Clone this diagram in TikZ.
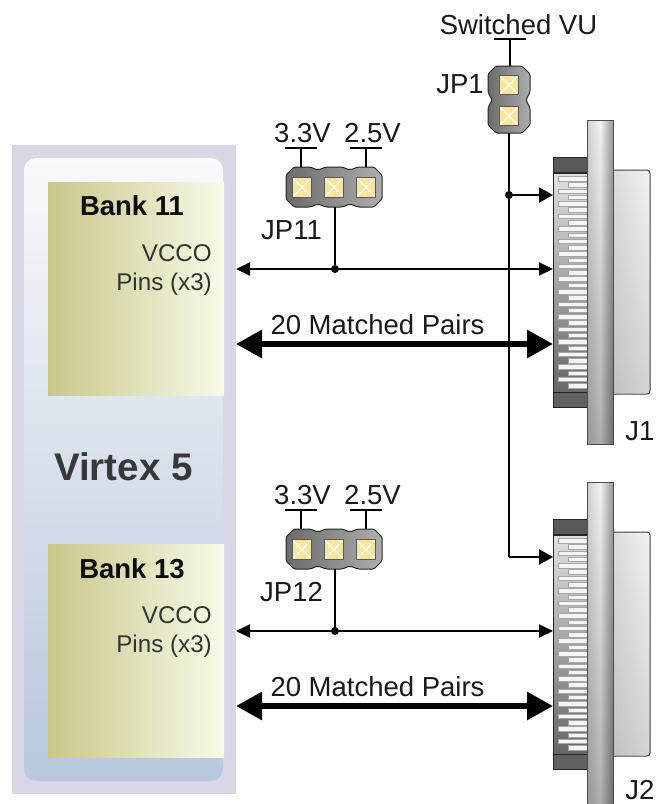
\documentclass[tikz,border=0pt]{standalone}
\usepackage{fontspec}
\setmainfont{Liberation Sans}
\usetikzlibrary{arrows.meta,fadings}
\definecolor{panel}{HTML}{D9D7E6}
\definecolor{innerT}{HTML}{F8F9FA}
\definecolor{innerM}{HTML}{DFE4EF}
\definecolor{innerB}{HTML}{B8C7DD}
\definecolor{bankL}{HTML}{C8C78B}
\definecolor{bankR}{HTML}{F9FAE8}
\definecolor{pinY}{HTML}{F8E49A}
\tikzfading[name=darkdown, top color=transparent!100, bottom color=transparent!72]
\tikzfading[name=darkdownsoft, top color=transparent!100, bottom color=transparent!88]
\tikzset{
  lbl/.style={font=\fontsize{27.5}{30}\selectfont, text=black!90, inner sep=0pt},
  banktitle/.style={font=\bfseries\fontsize{27.5}{30}\selectfont, text=black!95, inner sep=0pt},
  pinslbl/.style={font=\fontsize{24.2}{30}\selectfont, text=black!80, inner sep=0pt, anchor=east},
  bankbox/.style={left color=bankL, right color=bankR, minimum width=176pt, minimum height=213pt, anchor=north west, inner sep=0pt},
  jpin/.style={draw=black!65, line width=1pt, fill=pinY, minimum size=19.5pt, inner sep=0pt,
    path picture={\draw[white, line width=1.1pt] (path picture bounding box.north west)--(path picture bounding box.south east)
      (path picture bounding box.north east)--(path picture bounding box.south west);}},
  jbody/.style={draw=black!85, line width=1pt, left color=black!58, right color=black!32, rounded corners=1.5pt},
  wire/.style={draw=black, line width=1.9pt},
  thinarrow/.style={draw=black, line width=1.9pt, {Triangle[length=14pt,width=13pt]}-{Triangle[length=14pt,width=13pt]}},
  tiparrow/.style={draw=black, line width=2pt, -{Triangle[length=14pt,width=15pt]}},
  thickarrow/.style={draw=black, line width=6pt, {Triangle[length=26pt,width=27pt]}-{Triangle[length=26pt,width=27pt]}},
  junction/.style={circle, fill=black, minimum size=8pt, inner sep=0pt},
  finger/.style={draw=black!35, line width=0.9pt, fill=black!4},
}
% connector drawing: #1 name, #2 vertical offset
\newcommand{\hdconnector}[2]{
  \begin{scope}[yshift=-#2pt]
    \path[draw=black!75, line width=1pt, left color=black!17, right color=black!5, rounded corners=3pt]
      (600,170) -- (650,170) -- (650,394) -- (600,394) -- cycle;
    \fill[black, path fading=darkdownsoft, fit fading=true] (613,171) rectangle (649.5,393);
    \node[draw=black!85, line width=1pt, top color=black!12, bottom color=black!60, minimum width=35pt, minimum height=219pt, anchor=north west, inner sep=0pt] (#1comb) at (553,173) {};
    \node[draw=black!85, line width=1pt, fill=black!65, minimum width=35pt, minimum height=15pt, anchor=south west, inner sep=0pt] (#1top) at (553,173) {};
    \node[draw=black!85, line width=1pt, fill=black!62, minimum width=35pt, minimum height=15pt, anchor=north west, inner sep=0pt] (#1bot) at (553,392) {};
    \foreach \k in {0,...,16} {
      \fill[finger] (558,{176.5+12.55*\k}) rectangle (588,{181+12.55*\k});
      \fill[finger] (568,{182.8+12.55*\k}) rectangle (588,{187.3+12.55*\k});
    }
    \path[left color=black!18, right color=black!40, middle color=black!5]
      (587,120) rectangle (613,444);
    \fill[black, path fading=darkdown, fit fading=true] (587,120) rectangle (613,444);
    \draw[black!70, line width=1pt] (587,120) rectangle (613,444);
  \end{scope}
}
% three-pin jumper: #1 name, #2 vertical offset
\newcommand{\threejumper}[2]{
  \begin{scope}[yshift=-#2pt]
    \path[jbody] (286,175) -- (294,167) -- (310,167) -- (318,170) -- (326,167) -- (342,167) -- (350,170) -- (358,167) -- (374,167) -- (382,175)
      -- (382,199) -- (374,207) -- (358,207) -- (350,204) -- (342,207) -- (326,207) -- (318,204) -- (310,207) -- (294,207) -- (286,199) -- cycle;
    \node[jpin] (#1a) at (302,187.5) {};
    \node[jpin] (#1b) at (334,187.5) {};
    \node[jpin] (#1c) at (366,187.5) {};
    \coordinate (#1topa) at (301,167);
    \coordinate (#1topc) at (366,167);
    \coordinate (#1botb) at (335,207);
    \coordinate (#1teea) at (301,148);
    \coordinate (#1teec) at (366,148);
    \coordinate (#1teeaL) at (285,148);
    \coordinate (#1teeaR) at (317,148);
    \coordinate (#1teecL) at (350,148);
    \coordinate (#1teecR) at (382,148);
    \draw[wire] (#1teea) -- (#1topa);
    \draw[wire] (#1teec) -- (#1topc);
    \draw[wire] (#1teeaL) -- (#1teeaR);
    \draw[wire] (#1teecL) -- (#1teecR);
    \node[lbl] (#1v33) at (302.5,133) {3.3V};
    \node[lbl] (#1v25) at (372.5,133) {2.5V};
  \end{scope}
}
\begin{document}
\begin{tikzpicture}[x=1pt,y=-1pt]
\useasboundingbox (0,0) rectangle (656,804);
\clip (0,0) rectangle (656,804);
\fill[white] (0,0) rectangle (656,804);
% FPGA
\fill[panel] (12,145) rectangle (236,794);
\shade[rounded corners=12pt, top color=innerT, middle color=innerM, bottom color=innerB] (24,158) rectangle (223,781);
\node[bankbox] (bank11) at (48,182) {};
\node[bankbox] (bank13) at (48,544) {};
\node[banktitle] (t11) at (132,206) {Bank 11};
\node[banktitle] (t13) at (132,569) {Bank 13};
\node[pinslbl] (v11) at (212,253) {VCCO};
\node[pinslbl] (p11) at (212,284) {Pins (x3)};
\node[pinslbl] (v13) at (212,615) {VCCO};
\node[pinslbl] (p13) at (212,646) {Pins (x3)};
\node[font=\bfseries\fontsize{38.5}{42}\selectfont, text=black!78, inner sep=0pt] (virtex) at (123.5,467) {Virtex 5};
% connectors
\hdconnector{j1}{0}
\hdconnector{j2}{362}
\node[lbl] (j1l) at (640,431) {J1};
\node[lbl] (j2l) at (640,790) {J2};
% JP1
\path[jbody] (488,74) -- (496,66) -- (522,66) -- (530,74) -- (530,92) -- (526,100) -- (530,108) -- (530,125) -- (522,133) -- (496,133) -- (488,125) -- (488,108) -- (492,100) -- (488,92) -- cycle;
\node[jpin] (jp1a) at (509,85) {};
\node[jpin] (jp1b) at (509,116) {};
\coordinate (jp1top) at (510,66);
\coordinate (jp1bot) at (509,133);
\coordinate (vutee) at (510,39);
\coordinate (vuL) at (494,39);
\coordinate (vuR) at (526,39);
\draw[wire] (vutee) -- (jp1top);
\draw[wire] (vuL) -- (vuR);
\node[lbl] (vu) at (518.5,25) {Switched VU};
\node[lbl] (jp1l) at (460,84) {JP1};
% jumpers
\threejumper{jpa}{0}
\threejumper{jpb}{362}
\node[lbl] (jp11l) at (291.5,230) {JP11};
\node[lbl] (jp12l) at (291.5,592) {JP12};
% wires
\coordinate (j1in) at (553,195);
\coordinate (j2in) at (553,557);
\coordinate (vbend) at (509,557);
\node[junction] (d1) at (509,195) {};
\node[junction] (d11) at (335,269) {};
\node[junction] (d13) at (335,631) {};
\draw[wire] (jp1bot) -- (d1);
\draw[wire] (d1) -- (vbend);
\draw[tiparrow] (d1) -- (j1in);
\draw[tiparrow] (vbend) -- (j2in);
\draw[wire] (jpabotb) -- (d11);
\draw[wire] (jpbbotb) -- (d13);
\coordinate (a11L) at (236,269); \coordinate (a11R) at (553,269);
\coordinate (a13L) at (236,631); \coordinate (a13R) at (553,631);
\coordinate (m11L) at (236,344); \coordinate (m11R) at (553,344);
\coordinate (m13L) at (236,706); \coordinate (m13R) at (553,706);
\draw[thinarrow] (a11L) -- (a11R);
\draw[thinarrow] (a13L) -- (a13R);
\draw[thickarrow] (m11L) -- (m11R);
\draw[thickarrow] (m13L) -- (m13R);
\node[lbl] (m11) at (377.5,325) {20 Matched Pairs};
\node[lbl] (m13) at (377.5,687) {20 Matched Pairs};
\end{tikzpicture}
\end{document}
